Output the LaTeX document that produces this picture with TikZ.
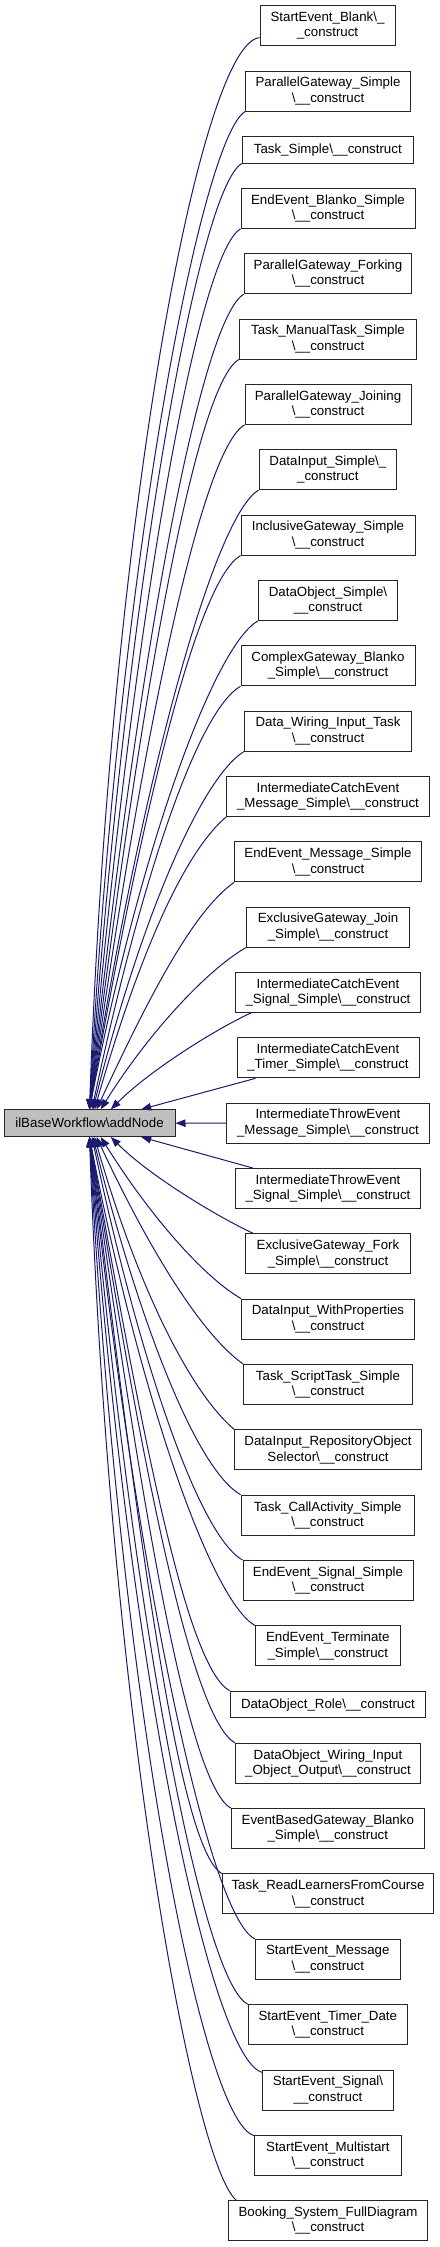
\documentclass[tikz,border=0pt]{standalone}
\usepackage{fontspec}
\setmainfont{Liberation Sans}
\usetikzlibrary{arrows.meta}
\definecolor{edgeblue}{RGB}{25,25,112}
\definecolor{mainfill}{RGB}{191,191,191}
\newcommand\fsz{\fontsize{1.33pt}{1.54pt}\selectfont}
\newcommand\bs{\textbackslash}
\begin{document}
\begin{tikzpicture}[x=0.1pt,y=-0.1pt,
  box/.style={draw=black!85, fill=white, line width=0.1pt, minimum height=4pt, inner sep=0pt, align=center, font=\fsz},
  box1/.style={box, minimum height=2.67pt},
  link/.style={draw=edgeblue, line width=0.1pt, -{Triangle[length=1pt,width=0.75pt]}}]
\useasboundingbox (0,0) rectangle (439,2247);
\node[box1, fill=mainfill, minimum width=17.1pt] (L) at (89.5,1123.2) {ilBaseWorkflow\bs addNode};
\node[box, minimum width=13.5pt] (n1) at (327.5,25.7) {StartEvent\_Blank\bs\_\\\_construct};
\node[box, minimum width=16.46pt] (n2) at (328,91.04) {ParallelGateway\_Simple\\\bs\_\_construct};
\node[box1, minimum width=17.1pt] (n3) at (327.8,149.73) {Task\_Simple\bs\_\_construct};
\node[box, minimum width=17.4pt] (n4) at (328,208.42) {EndEvent\_Blanko\_Simple\\\bs\_\_construct};
\node[box, minimum width=16.74pt] (n5) at (328,273.76) {ParallelGateway\_Forking\\\bs\_\_construct};
\node[box, minimum width=17.74pt] (n6) at (328,339.10) {Task\_ManualTask\_Simple\\\bs\_\_construct};
\node[box, minimum width=16.6pt] (n7) at (328,404.44) {ParallelGateway\_Joining\\\bs\_\_construct};
\node[box, minimum width=13.77pt] (n8) at (327.85,469.78) {DataInput\_Simple\bs\_\\\_construct};
\node[box, minimum width=17.4pt] (n9) at (328,535.12) {InclusiveGateway\_Simple\\\bs\_\_construct};
\node[box, minimum width=13.94pt] (n10) at (328,600.46) {DataObject\_Simple\bs\\\_\_construct};
\node[box, minimum width=17.4pt] (n11) at (328,665.80) {ComplexGateway\_Blanko\\\_Simple\bs\_\_construct};
\node[box, minimum width=16.74pt] (n12) at (328,731.14) {Data\_Wiring\_Input\_Task\\\bs\_\_construct};
\node[box, minimum width=20.26pt] (n13) at (328,796.48) {IntermediateCatchEvent\\\_Message\_Simple\bs\_\_construct};
\node[box, minimum width=18.66pt] (n14) at (328,861.82) {EndEvent\_Message\_Simple\\\bs\_\_construct};
\node[box, minimum width=16.34pt] (n15) at (328,927.16) {ExclusiveGateway\_Join\\\_Simple\bs\_\_construct};
\node[box, minimum width=18.54pt] (n16) at (328,992.50) {IntermediateCatchEvent\\\_Signal\_Simple\bs\_\_construct};
\node[box, minimum width=18.2pt] (n17) at (328,1057.84) {IntermediateCatchEvent\\\_Timer\_Simple\bs\_\_construct};
\node[box, minimum width=20.26pt] (n18) at (328,1123.18) {IntermediateThrowEvent\\\_Message\_Simple\bs\_\_construct};
\node[box, minimum width=18.54pt] (n19) at (328,1188.52) {IntermediateThrowEvent\\\_Signal\_Simple\bs\_\_construct};
\node[box, minimum width=16.46pt] (n20) at (328,1253.86) {ExclusiveGateway\_Fork\\\_Simple\bs\_\_construct};
\node[box, minimum width=17.26pt] (n21) at (328,1319.20) {DataInput\_WithProperties\\\bs\_\_construct};
\node[box, minimum width=16.86pt] (n22) at (328,1384.54) {Task\_ScriptTask\_Simple\\\bs\_\_construct};
\node[box, minimum width=18.66pt] (n23) at (328,1449.88) {DataInput\_RepositoryObject\\Selector\bs\_\_construct};
\node[box, minimum width=17.33pt] (n24) at (327.7,1515.22) {Task\_CallActivity\_Simple\\\bs\_\_construct};
\node[box, minimum width=17pt] (n25) at (328,1580.56) {EndEvent\_Signal\_Simple\\\bs\_\_construct};
\node[box, minimum width=14.5pt] (n26) at (327.8,1645.90) {EndEvent\_Terminate\\\_Simple\bs\_\_construct};
\node[box1, minimum width=19.57pt] (n27) at (327.85,1704.59) {DataObject\_Role\bs\_\_construct};
\node[box, minimum width=18.54pt] (n28) at (328,1763.28) {DataObject\_Wiring\_Input\\\_Object\_Output\bs\_\_construct};
\node[box, minimum width=19.3pt] (n29) at (327.8,1828.62) {EventBasedGateway\_Blanko\\\_Simple\bs\_\_construct};
\node[box, minimum width=21.14pt] (n30) at (328,1893.96) {Task\_ReadLearnersFromCourse\\\bs\_\_construct};
\node[box, minimum width=14.5pt] (n31) at (327.8,1959.30) {StartEvent\_Message\\\bs\_\_construct};
\node[box, minimum width=15.9pt] (n32) at (327.8,2024.64) {StartEvent\_Timer\_Date\\\bs\_\_construct};
\node[box, minimum width=13.06pt] (n33) at (328,2089.98) {StartEvent\_Signal\bs\\\_\_construct};
\node[box, minimum width=14.63pt] (n34) at (327.85,2155.32) {StartEvent\_Multistart\\\bs\_\_construct};
\node[box, minimum width=19.86pt] (n35) at (328,2220.66) {Booking\_System\_FullDiagram\\\bs\_\_construct};
% upper edges
\draw[link] (n1.190) to[out=185,in=88,out distance=6pt,in distance=58.5pt] (L.north);
\draw[link] (n2.south west) to[out=210,in=87,out distance=5pt,in distance=55pt] (L.north);
\draw[link] (n3.south west) to[out=210,in=86,out distance=5pt,in distance=52.1pt] (L.north);
\draw[link] (n4.south west) to[out=210,in=85,out distance=5pt,in distance=48.5pt] (L.north);
\draw[link] (n5.south west) to[out=210,in=84,out distance=5pt,in distance=44.9pt] (L.north);
\draw[link] (n6.south west) to[out=210,in=83,out distance=5pt,in distance=41.3pt] (L.north);
\draw[link] (n7.south west) to[out=210,in=82,out distance=5pt,in distance=37.7pt] (L.north);
\draw[link] (n8.south west) to[out=210,in=81,out distance=5pt,in distance=34.1pt] (L.north);
\draw[link] (n9.south west) to[out=210,in=80,out distance=5pt,in distance=30.5pt] (L.north);
\draw[link] (n10.south west) to[out=210,in=79,out distance=5pt,in distance=26.9pt] (L.north);
\draw[link] (n11.south west) to[out=210,in=78,out distance=5pt,in distance=23.3pt] (L.80);
\draw[link] (n12.south west) to[out=212,in=76,out distance=5pt,in distance=19.7pt] (L.76);
\draw[link] (n13.south west) to[out=220,in=74,out distance=5.5pt,in distance=16.1pt] (L.70);
\draw[link] (n14.south west) to[out=215,in=65,out distance=5pt,in distance=12.5pt] (L.63);
\draw[link] (n15.south west) to[out=210,in=58,out distance=4.5pt,in distance=9pt] (L.51);
\draw[link] ([xshift=1.6pt]n16.south west) to[out=205,in=45,out distance=4pt,in distance=5.5pt] (L.33);
\draw[link] ([xshift=1.9pt]n17.south west) -- (L.15);
% middle edge
\draw[link] (n18.west) -- (L.east);
% lower edges
\draw[link] ([xshift=1.8pt]n19.north west) -- (L.-15);
\draw[link] ([xshift=0.8pt]n20.north west) to[out=155,in=-45,out distance=4pt,in distance=5.5pt] (L.-33);
\draw[link] (n21.north west) to[out=150,in=-58,out distance=4.5pt,in distance=9pt] (L.-51);
\draw[link] (n22.north west) to[out=145,in=-65,out distance=5pt,in distance=12.5pt] (L.-63);
\draw[link] (n23.north west) to[out=140,in=-74,out distance=5.5pt,in distance=16.1pt] (L.-70);
\draw[link] (n24.north west) to[out=150,in=-76,out distance=5pt,in distance=19.7pt] (L.-76);
\draw[link] (n25.north west) to[out=150,in=-78,out distance=5pt,in distance=23.3pt] (L.-80);
\draw[link] (n26.north west) to[out=150,in=-79,out distance=5pt,in distance=26.9pt] (L.south);
\draw[link] (n27.north west) to[out=150,in=-80,out distance=5pt,in distance=30.5pt] (L.south);
\draw[link] (n28.north west) to[out=150,in=-81,out distance=5pt,in distance=33.4pt] (L.south);
\draw[link] (n29.north west) to[out=150,in=-82,out distance=5pt,in distance=37pt] (L.south);
\draw[link] (n30.north west) to[out=150,in=-83,out distance=5pt,in distance=40.5pt] (L.south);
\draw[link] (n31.north west) to[out=155,in=-84,out distance=5pt,in distance=44.1pt] (L.south);
\draw[link] (n32.north west) to[out=155,in=-85,out distance=5pt,in distance=47.7pt] (L.south);
\draw[link] (n33.165) to[out=165,in=-86,out distance=5.5pt,in distance=51.3pt] (L.south);
\draw[link] (n34.165) to[out=165,in=-87,out distance=5.5pt,in distance=54.9pt] (L.south);
\draw[link] ([xshift=0.8pt]n35.north west) to[out=140,in=-88,out distance=5.5pt,in distance=58.5pt] (L.south);
\end{tikzpicture}
\end{document}
